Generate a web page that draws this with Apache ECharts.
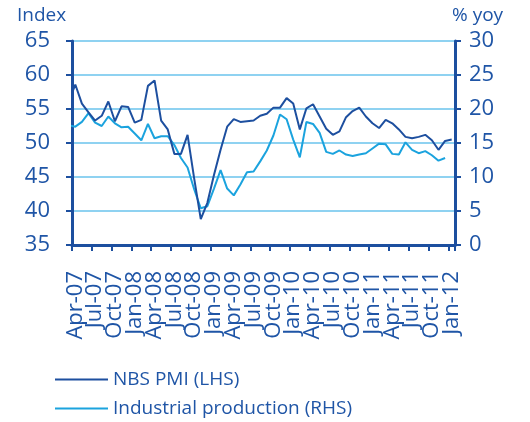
<!DOCTYPE html>
<html>
<head>
<meta charset="utf-8">
<script src="https://cdn.jsdelivr.net/npm/echarts@6/dist/echarts.min.js"></script>
<style>
  html, body { margin: 0; padding: 0; background: #fff; }
  #chart { width: 530px; height: 422px; }
</style>
</head>
<body>
<div id="chart"></div>
<script>
// months, Mar-07 is only there so the line runs into the left axis
const months = [
  'Mar-07', 'Apr-07', 'May-07', 'Jun-07', 'Jul-07', 'Aug-07', 'Sep-07', 'Oct-07', 'Nov-07', 'Dec-07',
  'Jan-08', 'Feb-08', 'Mar-08', 'Apr-08', 'May-08', 'Jun-08', 'Jul-08', 'Aug-08', 'Sep-08', 'Oct-08', 'Nov-08', 'Dec-08',
  'Jan-09', 'Feb-09', 'Mar-09', 'Apr-09', 'May-09', 'Jun-09', 'Jul-09', 'Aug-09', 'Sep-09', 'Oct-09', 'Nov-09', 'Dec-09',
  'Jan-10', 'Feb-10', 'Mar-10', 'Apr-10', 'May-10', 'Jun-10', 'Jul-10', 'Aug-10', 'Sep-10', 'Oct-10', 'Nov-10', 'Dec-10',
  'Jan-11', 'Feb-11', 'Mar-11', 'Apr-11', 'May-11', 'Jun-11', 'Jul-11', 'Aug-11', 'Sep-11', 'Oct-11', 'Nov-11', 'Dec-11',
  'Jan-12'
];

// NBS PMI, index (LHS)
const pmi = [
  56.1, 58.6, 55.8, 54.5, 53.3, 54.0, 56.1, 53.2, 55.4, 55.3,
  53.0, 53.4, 58.4, 59.2, 53.3, 52.0, 48.4, 48.4, 51.2, 44.8, 38.8, 41.2,
  45.3, 49.0, 52.4, 53.5, 53.1, 53.2, 53.3, 54.0, 54.3, 55.2, 55.2, 56.6,
  55.8, 52.0, 55.1, 55.7, 53.9, 52.1, 51.2, 51.7, 53.8, 54.7, 55.2, 53.9,
  52.9, 52.2, 53.4, 52.9, 52.0, 50.9, 50.7, 50.9, 51.2, 50.4, 49.0, 50.3,
  50.5
];

// industrial production, % yoy (RHS)
const indProd = [
  17.6, 17.4, 18.1, 19.4, 18.0, 17.5, 18.9, 17.9, 17.3, 17.4,
  16.4, 15.4, 17.8, 15.7, 16.0, 16.0, 14.7, 12.8, 11.4, 8.2, 5.4, 5.7,
  8.3, 11.0, 8.3, 7.3, 8.9, 10.7, 10.8, 12.3, 13.9, 16.1, 19.2, 18.5,
  15.5, 12.9, 18.1, 17.8, 16.5, 13.7, 13.4, 13.9, 13.3, 13.1, 13.3, 13.5,
  14.2, 14.9, 14.8, 13.4, 13.3, 15.1, 14.0, 13.5, 13.8, 13.2, 12.4, 12.8,
  null
];

const leftTicks = { min: 35, max: 65, step: 5 };
const rightTicks = { min: 0, max: 30, step: 5 };

const navy = '#1d4f9f';
const cyan = '#1ba3de';
const gridBlue = '#8fd2f1';
const textBlue = '#1f55a6';
const font = 'Open Sans';

// every third month from Apr-07
function quarterly(index) {
    return index >= 1 && (index - 1) % 3 === 0;
}

let chart = echarts.init(document.getElementById('chart'), null, { renderer: 'canvas' });

let option = {
    animation: false,
    textStyle: { fontFamily: font },
    grid: { left: 72, right: 75, top: 41, bottom: 177, containLabel: false },
    graphic: [
        { type: 'text', left: 17, top: 6, style: { text: 'Index', fill: textBlue, font: '19px "Open Sans"' } },
        { type: 'text', left: 452, top: 6, style: { text: '% yoy', fill: textBlue, font: '19px "Open Sans"' } }
    ],
    legend: {
        orient: 'vertical',
        left: 55,
        top: 370,
        padding: 0,
        icon: 'rect',
        itemWidth: 53,
        itemHeight: 2,
        itemGap: 10,
        textStyle: { color: textBlue, fontSize: 19, fontFamily: font },
        data: ['NBS PMI (LHS)', 'Industrial production (RHS)']
    },
    xAxis: {
        type: 'category',
        data: months,
        min: 1,
        boundaryGap: true,
        axisLine: { lineStyle: { color: navy, width: 3 } },
        axisTick: { show: true, interval: quarterly, length: 6, lineStyle: { color: navy, width: 2 } },
        axisLabel: {
            // interval 0 keeps every label, the formatter blanks the in-between months
            interval: 0,
            formatter: function (value) {
                return quarterly(months.indexOf(value)) ? value : '';
            },
            rotate: 90,
            margin: 26,
            color: textBlue,
            fontSize: 22,
            fontFamily: font
        },
        splitLine: { show: false }
    },
    yAxis: [
        {
            type: 'value',
            min: leftTicks.min,
            max: leftTicks.max,
            interval: leftTicks.step,
            axisLine: { show: true, lineStyle: { color: navy, width: 3 } },
            axisTick: { show: true, length: 6, lineStyle: { color: navy, width: 2 } },
            axisLabel: { margin: 22, color: textBlue, fontSize: 22, fontFamily: font },
            splitLine: { show: true, lineStyle: { color: gridBlue, width: 2 } }
        },
        {
            type: 'value',
            min: rightTicks.min,
            max: rightTicks.max,
            interval: rightTicks.step,
            position: 'right',
            axisLine: { show: true, lineStyle: { color: navy, width: 3 } },
            axisTick: { show: true, length: 6, lineStyle: { color: navy, width: 2 } },
            axisLabel: { margin: 14, color: textBlue, fontSize: 22, fontFamily: font },
            splitLine: { show: false }
        }
    ],
    series: [
        {
            name: 'NBS PMI (LHS)',
            type: 'line',
            yAxisIndex: 0,
            symbol: 'none',
            clip: true,
            z: 3,
            lineStyle: { color: navy, width: 2 },
            itemStyle: { color: navy },
            data: pmi
        },
        {
            name: 'Industrial production (RHS)',
            type: 'line',
            yAxisIndex: 1,
            symbol: 'none',
            clip: true,
            z: 2,
            lineStyle: { color: cyan, width: 2 },
            itemStyle: { color: cyan },
            data: indProd
        }
    ]
};
chart.setOption(option);
</script>
</body>
</html>
